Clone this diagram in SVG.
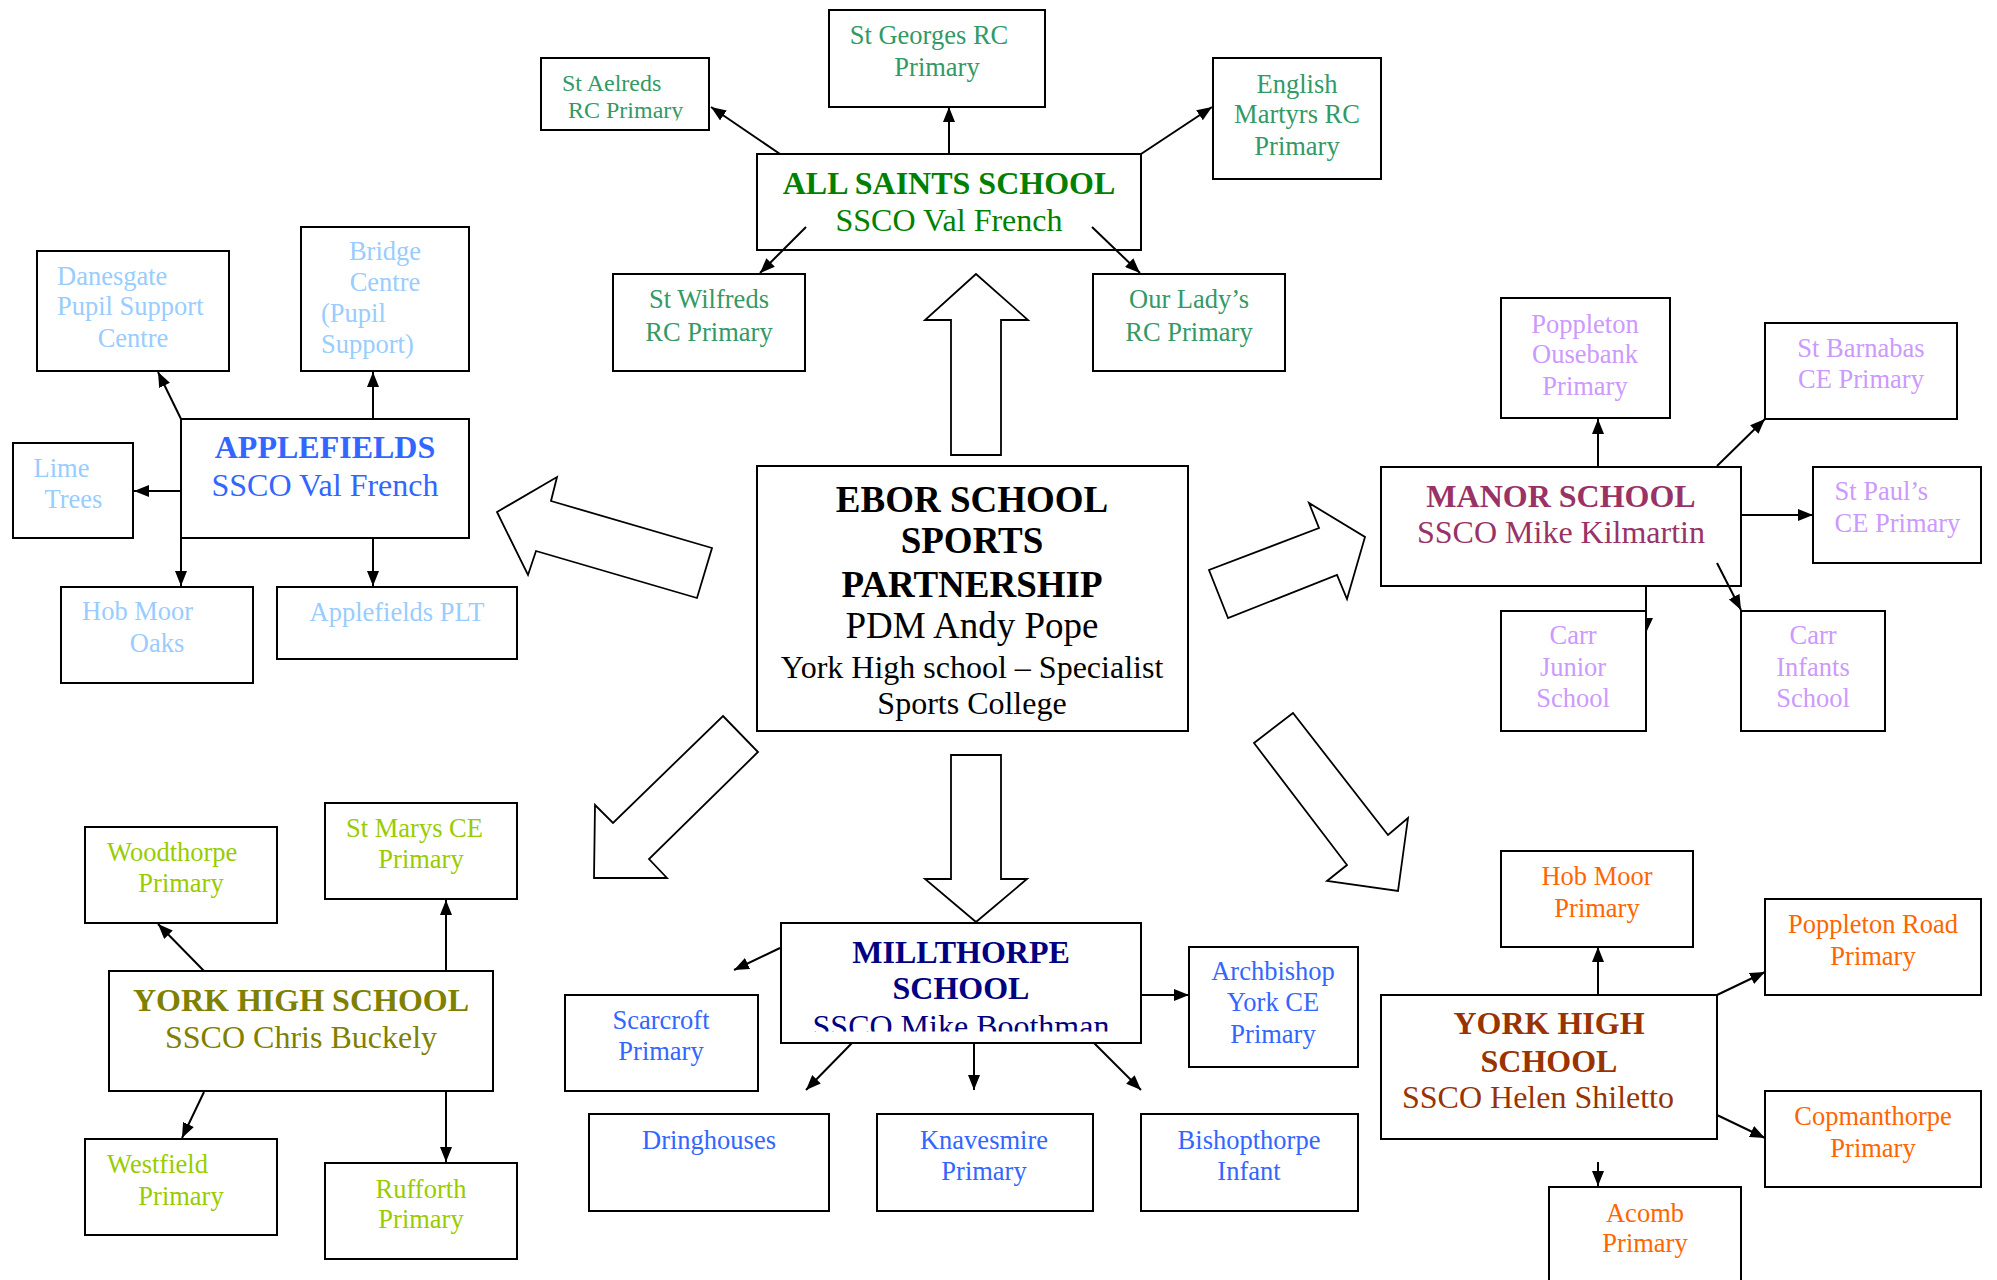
<svg xmlns="http://www.w3.org/2000/svg" width="1997" height="1280" viewBox="0 0 1997 1280">
<style>
.box{fill:none;stroke:#000;stroke-width:2}
.t{font-family:"Liberation Serif","Times New Roman",serif;font-size:26.5px;text-anchor:middle}
.st{text-anchor:start}
.h{font-size:32px;font-weight:bold}
.s{font-size:32px}
.c{stroke:#000;stroke-width:2;fill:none;marker-end:url(#ah)}
.blk{fill:#fff;stroke:#000;stroke-width:1.8;stroke-linejoin:miter}
.g1{fill:#008000}.g2{fill:#339966}
.b1{fill:#3366FF}.b2{fill:#99CCFF}
.p1{fill:#993366}.p2{fill:#CC99FF}
.o1{fill:#808000}.o2{fill:#99CC00}
.n1{fill:#000080}.n2{fill:#3366FF}
.r1{fill:#993300}.r2{fill:#FF6600}
</style>
<defs>
<marker id="ah" markerWidth="16" markerHeight="12" refX="15" refY="6" orient="auto" markerUnits="userSpaceOnUse"><path d="M0,0 L15,6 L0,12 z" fill="#000"/></marker>
<clipPath id="clipAel"><rect x="541" y="58" width="168" height="62.5"/></clipPath>
<clipPath id="clipMill"><rect x="781" y="923" width="360" height="108.5"/></clipPath>
</defs>
<rect width="1997" height="1280" fill="#fff"/>

<g id="block-arrows">
<polygon class="blk" points="976,274 925,320 951,320 951,455 1001,455 1001,320 1028,320"/>
<polygon class="blk" points="497,512 557,477 551,501 712,548 697,598 536,551 528,575"/>
<polygon class="blk" points="1228,618 1209,570 1319,528 1309,503 1365,537 1347,599 1337,575"/>
<polygon class="blk" points="723,716 758,752 649,859 667,878 594,878 595,805 613,823"/>
<polygon class="blk" points="1254,743 1293,713 1388,835 1408,818 1398,891 1327,881 1347,865"/>
<polygon class="blk" points="951,755 1001,755 1001,879 1027,879 976,922 925,879 951,879"/>
</g>

<g id="ebor">
<rect class="box" x="757" y="466" width="431" height="265"/>
<text class="t" x="972" y="512" style="font-size:37px;font-weight:bold">EBOR SCHOOL</text>
<text class="t" x="972" y="553" style="font-size:37px;font-weight:bold">SPORTS</text>
<text class="t" x="972" y="597" style="font-size:37px;font-weight:bold">PARTNERSHIP</text>
<text class="t" x="972" y="638" style="font-size:37px">PDM Andy Pope</text>
<text class="t" x="972" y="678" style="font-size:32px">York High school – Specialist</text>
<text class="t" x="972" y="714" style="font-size:32px">Sports College</text>
</g>

<g id="all-saints">
<rect class="box" x="757" y="154" width="384" height="96"/>
<text class="t h g1" x="949" y="194">ALL SAINTS SCHOOL</text>
<text class="t s g1" x="949" y="231">SSCO Val French</text>
</g>
<g id="st-georges"><rect class="box" x="829" y="10" width="216" height="97"/>
<text class="t g2" x="929" y="44">St Georges RC</text><text class="t g2" x="937" y="76">Primary</text></g>
<g id="st-aelreds"><rect class="box" x="541" y="58" width="168" height="72"/>
<g clip-path="url(#clipAel)"><text class="t st g2" x="562" y="91" style="font-size:24px">St Aelreds</text><text class="t st g2" x="568" y="118" style="font-size:24px">RC Primary</text></g></g>
<g id="english-martyrs"><rect class="box" x="1213" y="58" width="168" height="121"/>
<text class="t g2" x="1297" y="93">English</text><text class="t g2" x="1297" y="123">Martyrs RC</text><text class="t g2" x="1297" y="155">Primary</text></g>
<g id="st-wilfreds"><rect class="box" x="613" y="274" width="192" height="97"/>
<text class="t g2" x="709" y="308">St Wilfreds</text><text class="t g2" x="709" y="341">RC Primary</text></g>
<g id="our-ladys"><rect class="box" x="1093" y="274" width="192" height="97"/>
<text class="t g2" x="1189" y="308">Our Lady’s</text><text class="t g2" x="1189" y="341">RC Primary</text></g>

<g id="applefields">
<rect class="box" x="181" y="419" width="288" height="119"/>
<text class="t h b1" x="325" y="458">APPLEFIELDS</text>
<text class="t s b1" x="325" y="496">SSCO Val French</text>
</g>
<g id="danesgate"><rect class="box" x="37" y="251" width="192" height="120"/>
<text class="t st b2" x="57" y="285">Danesgate</text><text class="t st b2" x="57" y="315">Pupil Support</text><text class="t b2" x="133" y="347">Centre</text></g>
<g id="bridge-centre"><rect class="box" x="301" y="227" width="168" height="144"/>
<text class="t b2" x="385" y="260">Bridge</text><text class="t b2" x="385" y="291">Centre</text><text class="t st b2" x="321" y="322">(Pupil</text><text class="t st b2" x="321" y="353">Support)</text></g>
<g id="lime-trees"><rect class="box" x="13" y="443" width="120" height="95"/>
<text class="t st b2" x="33.5" y="477">Lime</text><text class="t st b2" x="44.5" y="508">Trees</text></g>
<g id="hob-moor-oaks"><rect class="box" x="61" y="587" width="192" height="96"/>
<text class="t st b2" x="82" y="620">Hob Moor</text><text class="t b2" x="157" y="652">Oaks</text></g>
<g id="applefields-plt"><rect class="box" x="277" y="587" width="240" height="72"/>
<text class="t b2" x="397" y="621">Applefields PLT</text></g>

<g id="manor">
<rect class="box" x="1381" y="467" width="360" height="119"/>
<text class="t h p1" x="1561" y="507">MANOR SCHOOL</text>
<text class="t s p1" x="1561" y="543">SSCO Mike Kilmartin</text>
</g>
<g id="poppleton-ousebank"><rect class="box" x="1501" y="298" width="169" height="120"/>
<text class="t p2" x="1585" y="333">Poppleton</text><text class="t p2" x="1585" y="363">Ousebank</text><text class="t p2" x="1585" y="395">Primary</text></g>
<g id="st-barnabas"><rect class="box" x="1765" y="323" width="192" height="96"/>
<text class="t p2" x="1861" y="357">St Barnabas</text><text class="t p2" x="1861" y="388">CE Primary</text></g>
<g id="st-pauls"><rect class="box" x="1813" y="467" width="168" height="96"/>
<text class="t st p2" x="1834.5" y="500">St Paul’s</text><text class="t st p2" x="1834.5" y="532">CE Primary</text></g>
<g id="carr-junior"><rect class="box" x="1501" y="611" width="145" height="120"/>
<text class="t p2" x="1573" y="644">Carr</text><text class="t p2" x="1573" y="676">Junior</text><text class="t p2" x="1573" y="707">School</text></g>
<g id="carr-infants"><rect class="box" x="1741" y="611" width="144" height="120"/>
<text class="t p2" x="1813" y="644">Carr</text><text class="t p2" x="1813" y="676">Infants</text><text class="t p2" x="1813" y="707">School</text></g>

<g id="york-high-chris">
<rect class="box" x="109" y="971" width="384" height="120"/>
<text class="t h o1" x="301" y="1011">YORK HIGH SCHOOL</text>
<text class="t s o1" x="301" y="1048">SSCO Chris Buckely</text>
</g>
<g id="woodthorpe"><rect class="box" x="85" y="827" width="192" height="96"/>
<text class="t st o2" x="107" y="861">Woodthorpe</text><text class="t o2" x="181" y="892">Primary</text></g>
<g id="st-marys"><rect class="box" x="325" y="803" width="192" height="96"/>
<text class="t st o2" x="346" y="837">St Marys CE</text><text class="t o2" x="421" y="868">Primary</text></g>
<g id="westfield"><rect class="box" x="85" y="1139" width="192" height="96"/>
<text class="t st o2" x="107" y="1173">Westfield</text><text class="t o2" x="181" y="1205">Primary</text></g>
<g id="rufforth"><rect class="box" x="325" y="1163" width="192" height="96"/>
<text class="t o2" x="421" y="1198">Rufforth</text><text class="t o2" x="421" y="1228">Primary</text></g>

<g id="millthorpe">
<rect class="box" x="781" y="923" width="360" height="120"/>
<text class="t h n1" x="961" y="963">MILLTHORPE</text>
<text class="t h n1" x="961" y="999">SCHOOL</text>
<g clip-path="url(#clipMill)"><text class="t s n1" x="961" y="1037">SSCO Mike Boothman</text></g>
</g>
<g id="scarcroft"><rect class="box" x="565" y="995" width="193" height="96"/>
<text class="t n2" x="661" y="1029">Scarcroft</text><text class="t n2" x="661" y="1060">Primary</text></g>
<g id="archbishop"><rect class="box" x="1189" y="947" width="169" height="120"/>
<text class="t n2" x="1273" y="980">Archbishop</text><text class="t n2" x="1273" y="1011">York CE</text><text class="t n2" x="1273" y="1043">Primary</text></g>
<g id="dringhouses"><rect class="box" x="589" y="1114" width="240" height="97"/>
<text class="t n2" x="709" y="1149">Dringhouses</text></g>
<g id="knavesmire"><rect class="box" x="877" y="1114" width="216" height="97"/>
<text class="t n2" x="984" y="1149">Knavesmire</text><text class="t n2" x="984" y="1180">Primary</text></g>
<g id="bishopthorpe"><rect class="box" x="1141" y="1114" width="217" height="97"/>
<text class="t n2" x="1249" y="1149">Bishopthorpe</text><text class="t n2" x="1249" y="1180">Infant</text></g>

<g id="york-high-helen">
<rect class="box" x="1381" y="995" width="336" height="144"/>
<text class="t h r1" x="1549" y="1034">YORK HIGH</text>
<text class="t h r1" x="1549" y="1072">SCHOOL</text>
<text class="t s r1" x="1538" y="1108">SSCO Helen Shiletto</text>
</g>
<g id="hob-moor-primary"><rect class="box" x="1501" y="851" width="192" height="96"/>
<text class="t r2" x="1597" y="885">Hob Moor</text><text class="t r2" x="1597" y="917">Primary</text></g>
<g id="poppleton-road"><rect class="box" x="1765" y="899" width="216" height="96"/>
<text class="t r2" x="1873" y="933">Poppleton Road</text><text class="t r2" x="1873" y="965">Primary</text></g>
<g id="copmanthorpe"><rect class="box" x="1765" y="1091" width="216" height="96"/>
<text class="t r2" x="1873" y="1125">Copmanthorpe</text><text class="t r2" x="1873" y="1157">Primary</text></g>
<g id="acomb"><rect class="box" x="1549" y="1187" width="192" height="110"/>
<text class="t r2" x="1645" y="1222">Acomb</text><text class="t r2" x="1645" y="1252">Primary</text></g>

<g id="connectors">
<line class="c" x1="780" y1="154" x2="711" y2="107"/>
<line class="c" x1="949" y1="154" x2="949" y2="107"/>
<line class="c" x1="1141" y1="154" x2="1212" y2="107"/>
<line class="c" x1="806" y1="227" x2="760" y2="273"/>
<line class="c" x1="1092" y1="227" x2="1140" y2="273"/>
<line class="c" x1="181" y1="419" x2="158" y2="372"/>
<line class="c" x1="373" y1="419" x2="373" y2="372"/>
<line class="c" x1="181" y1="491" x2="134" y2="491"/>
<line class="c" x1="181" y1="538" x2="181" y2="586"/>
<line class="c" x1="373" y1="538" x2="373" y2="586"/>
<line class="c" x1="1598" y1="467" x2="1598" y2="419"/>
<line class="c" x1="1717" y1="466" x2="1765" y2="419"/>
<line class="c" x1="1741" y1="515" x2="1813" y2="515"/>
<line class="c" x1="1717" y1="563" x2="1741" y2="610"/>
<line x1="1646" y1="586" x2="1646" y2="633" stroke="#000" stroke-width="2"/>
<polygon points="1646,618 1653,618 1646,633" fill="#000"/>
<line class="c" x1="204" y1="971" x2="158" y2="924"/>
<line class="c" x1="446" y1="971" x2="446" y2="900"/>
<line class="c" x1="204" y1="1092" x2="182" y2="1138"/>
<line class="c" x1="446" y1="1092" x2="446" y2="1162"/>
<line class="c" x1="780" y1="948" x2="734" y2="970"/>
<line class="c" x1="1141" y1="995" x2="1189" y2="995"/>
<line class="c" x1="852" y1="1043" x2="806" y2="1090"/>
<line class="c" x1="974" y1="1043" x2="974" y2="1090"/>
<line class="c" x1="1094" y1="1043" x2="1141" y2="1090"/>
<line class="c" x1="1598" y1="995" x2="1598" y2="947"/>
<line class="c" x1="1717" y1="995" x2="1765" y2="972"/>
<line class="c" x1="1717" y1="1115" x2="1765" y2="1138"/>
<line class="c" x1="1598" y1="1162" x2="1598" y2="1186"/>
</g>
</svg>
